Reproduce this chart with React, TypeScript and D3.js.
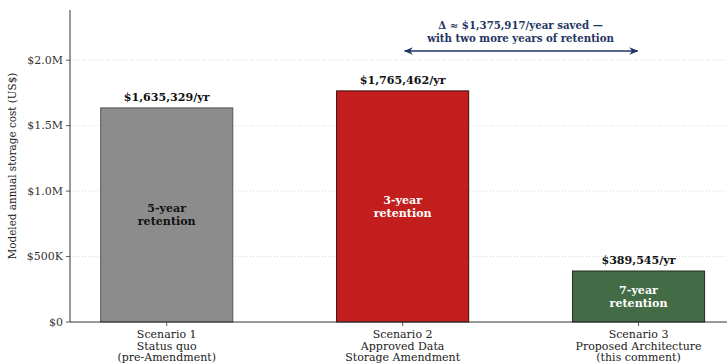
import React from "react";
import * as d3 from "d3";

const categories = [
  ["Scenario 1", "Status quo", "(pre-Amendment)"],
  ["Scenario 2", "Approved Data", "Storage Amendment"],
  ["Scenario 3", "Proposed Architecture", "(this comment)"],
];
const values = [1635329, 1765462, 389545];
const valueLabels = ["$1,635,329/yr", "$1,765,462/yr", "$389,545/yr"];
const innerLabels = [["5-year", "retention"], ["3-year", "retention"], ["7-year", "retention"]];
const fills = ["#8c8c8c", "#c21e1e", "#436b45"];
const strokes = ["#555555", "#3a1010", "#1f2f1f"];
const innerColors = ["#111111", "#ffffff", "#ffffff"];
const yTicks = [0, 500000, 1000000, 1500000, 2000000];
const yTickLabels = ["$0", "$500K", "$1.0M", "$1.5M", "$2.0M"];
const annotation = ["Δ ≈ $1,375,917/year saved —", "with two more years of retention"];

const W = 727, H = 364;
const left = 70, right = 727, top = 10, bottom = 322;
const font = "'DejaVu Serif', serif";

export default function App() {
  const x = d3.scaleLinear().domain([-0.41, 2.375]).range([left, right]);
  const y = d3.scaleLinear().domain([0, 1765462 * 1.35]).range([bottom, top]);
  const bw = x(0.56) - x(0);
  const navy = "#1f3563";
  return (
    <svg width={W} height={H} style={{ position: "absolute", left: 0, top: 0 }} fontFamily={font}>
      <defs>
        <marker id="ah" viewBox="0 0 10 10" refX="9" refY="5" markerWidth="7" markerHeight="7" orient="auto-start-reverse">
          <path d="M0,1 L10,5 L0,9 L3,5 Z" fill={navy} />
        </marker>
      </defs>
      {yTicks.map((t, i) => (
        <g key={i}>
          {t > 0 && (
            <line x1={left} x2={right} y1={y(t)} y2={y(t)} stroke="#cccccc" strokeWidth={0.8} strokeDasharray="1,2" />
          )}
          <line x1={left - 4} x2={left} y1={y(t)} y2={y(t)} stroke="#333" strokeWidth={0.8} />
          <text x={left - 7} y={y(t)} dy="0.35em" textAnchor="end" fontSize={11} fill="#333">{yTickLabels[i]}</text>
        </g>
      ))}
      {values.map((v, i) => (
        <g key={i}>
          <rect x={x(i) - bw / 2} y={y(v)} width={bw} height={bottom - y(v)} fill={fills[i]} stroke={strokes[i]} strokeWidth={1} />
          <text x={x(i)} y={y(v) - 7} textAnchor="middle" fontSize={11.1} fontWeight="bold" fill="#111">{valueLabels[i]}</text>
          {innerLabels[i].map((l, j) => (
            <text key={j} x={x(i)} y={(y(v) + bottom) / 2 + (j - 0.5) * 13} dy="0.35em" textAnchor="middle" fontSize={11.1} fontWeight="bold" fill={innerColors[i]}>{l}</text>
          ))}
          <line x1={x(i)} x2={x(i)} y1={bottom} y2={bottom + 4} stroke="#333" strokeWidth={0.8} />
          {categories[i].map((c, j) => (
            <text key={j} x={x(i)} y={bottom + 12.5 + j * 11.5} dy="0.35em" textAnchor="middle" fontSize={11} fill="#222">{c}</text>
          ))}
        </g>
      ))}
      <line x1={left} x2={left} y1={top} y2={bottom} stroke="#333" strokeWidth={1} />
      <line x1={left} x2={right} y1={bottom} y2={bottom} stroke="#333" strokeWidth={1} />
      <text transform={`translate(16,166) rotate(-90)`} textAnchor="middle" fontSize={10.4} fill="#222">Modeled annual storage cost (US$)</text>
      {annotation.map((a, j) => (
        <text key={j} x={(x(1) + x(2)) / 2} y={25 + j * 13} dy="0.35em" textAnchor="middle" fontSize={10.2} fontWeight="bold" fill={navy}>{a}</text>
      ))}
      <line x1={x(1) + 2} x2={x(2) - 1} y1={51} y2={51} stroke={navy} strokeWidth={1.3} markerStart="url(#ah)" markerEnd="url(#ah)" />
    </svg>
  );
}
